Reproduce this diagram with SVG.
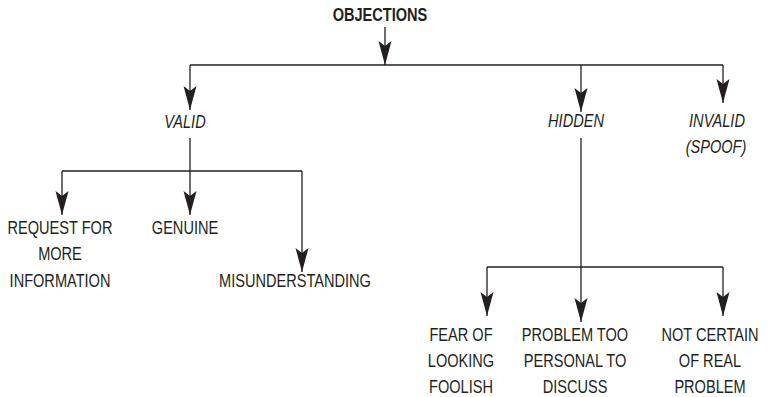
<svg xmlns="http://www.w3.org/2000/svg" width="773" height="397" viewBox="0 0 773 397">
<style>
.t{font-family:"Liberation Sans",Arial,sans-serif;font-size:18px;fill:#231f20;text-anchor:middle}
.b{font-weight:bold}
.i{font-style:italic}
.c{fill:none;stroke:#231f20;stroke-width:1.3}
.a{stroke:#231f20;stroke-width:1.3;fill:none;marker-end:url(#ah)}
</style>
<defs>
<marker id="ah" viewBox="-13 -7 26 14" refX="12" refY="0" markerWidth="26" markerHeight="14" markerUnits="userSpaceOnUse" orient="auto">
<path d="M12,0 L-12,-6.5 L-7,0 L-12,6.5 Z" fill="#231f20"/>
</marker>
</defs>
<rect width="773" height="397" fill="#fff"/>
<g id="connectors">
<path class="a" d="M385,27 V65"/>
<path class="c" d="M190,65 H723"/>
<path class="a" d="M190,65 V110"/>
<path class="a" d="M581,65 V112"/>
<path class="a" d="M723,65 V103"/>
<path class="a" d="M190,138 V215"/>
<path class="c" d="M62,171 H302"/>
<path class="a" d="M62,171 V215"/>
<path class="a" d="M302,171 V272"/>
<path class="a" d="M581,138 V322"/>
<path class="c" d="M487,267 H723"/>
<path class="a" d="M487,267 V316"/>
<path class="a" d="M723,267 V316"/>
</g>
<g id="objections"><text class="t b" transform="translate(380 21) scale(0.81 1)">OBJECTIONS</text></g>
<g id="valid"><text class="t i" transform="translate(185 128) scale(0.81 1)">VALID</text></g>
<g id="hidden"><text class="t i" transform="translate(576 127) scale(0.81 1)">HIDDEN</text></g>
<g id="invalid">
<text class="t i" transform="translate(717 127) scale(0.81 1)">INVALID</text>
<text class="t i" transform="translate(716 153) scale(0.81 1)">(SPOOF)</text>
</g>
<g id="request">
<text class="t" transform="translate(60 234) scale(0.81 1)">REQUEST FOR</text>
<text class="t" transform="translate(60 260) scale(0.81 1)">MORE</text>
<text class="t" transform="translate(60 287) scale(0.81 1)">INFORMATION</text>
</g>
<g id="genuine"><text class="t" transform="translate(185 234) scale(0.81 1)">GENUINE</text></g>
<g id="misunderstanding"><text class="t" transform="translate(295 287) scale(0.81 1)">MISUNDERSTANDING</text></g>
<g id="fear">
<text class="t" transform="translate(461 341) scale(0.81 1)">FEAR OF</text>
<text class="t" transform="translate(461 367) scale(0.81 1)">LOOKING</text>
<text class="t" transform="translate(461 393) scale(0.81 1)">FOOLISH</text>
</g>
<g id="personal">
<text class="t" transform="translate(575 341) scale(0.81 1)">PROBLEM TOO</text>
<text class="t" transform="translate(575 367) scale(0.81 1)">PERSONAL TO</text>
<text class="t" transform="translate(575 393) scale(0.81 1)">DISCUSS</text>
</g>
<g id="notcertain">
<text class="t" transform="translate(710 341) scale(0.81 1)">NOT CERTAIN</text>
<text class="t" transform="translate(710 367) scale(0.81 1)">OF REAL</text>
<text class="t" transform="translate(710 393) scale(0.81 1)">PROBLEM</text>
</g>
</svg>
